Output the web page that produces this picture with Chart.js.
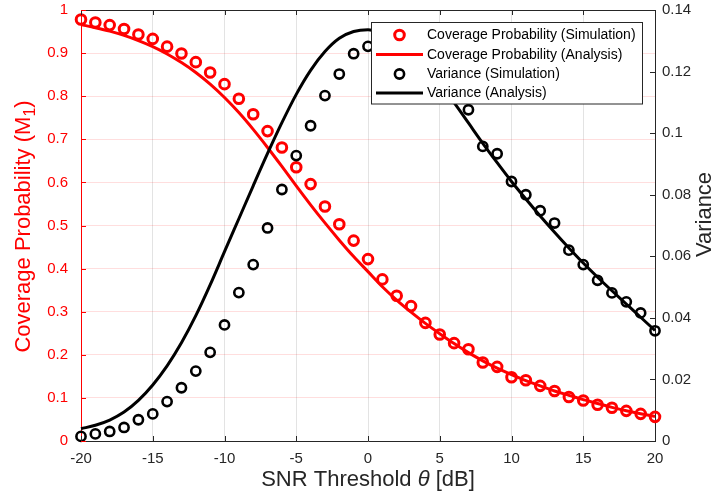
<!DOCTYPE html>
<html>
<head>
<meta charset="utf-8">
<script src="https://cdn.jsdelivr.net/npm/chart.js@4/dist/chart.umd.min.js"></script>
<style>
  html, body { margin: 0; padding: 0; background: #fff; }
  #wrap { width: 712px; height: 502px; }
</style>
</head>
<body>
<div id="wrap"><canvas id="snrChart" width="712" height="502"></canvas></div>
<script>
// --- DATA ---
const snrDb = [-20, -19, -18, -17, -16, -15, -14, -13, -12, -11,
               -10, -9, -8, -7, -6, -5, -4, -3, -2, -1,
               0, 1, 2, 3, 4, 5, 6, 7, 8, 9, 10,
               11, 12, 13, 14, 15, 16, 17, 18, 19, 20];

const covSim = [0.978, 0.971, 0.965, 0.956, 0.943, 0.933, 0.915, 0.899, 0.879, 0.855,
                0.828, 0.794, 0.758, 0.719, 0.681, 0.635, 0.596, 0.544, 0.503, 0.465,
                0.422, 0.375, 0.337, 0.313, 0.274, 0.247, 0.227, 0.213, 0.182, 0.172, 0.148,
                0.141, 0.128, 0.116, 0.102, 0.094, 0.084, 0.077, 0.070, 0.063, 0.056];

const covAna = [0.966, 0.959, 0.951, 0.941, 0.929, 0.915, 0.898, 0.878, 0.855, 0.828,
                0.797, 0.762, 0.723, 0.681, 0.637, 0.592, 0.548, 0.506, 0.466, 0.428,
                0.393, 0.358, 0.327, 0.299, 0.273, 0.249, 0.226, 0.205, 0.186, 0.169, 0.154,
                0.140, 0.128, 0.116, 0.106, 0.096, 0.087, 0.078, 0.070, 0.063, 0.057];

const varSim = [0.0015, 0.0023, 0.0031, 0.0044, 0.0069, 0.0088, 0.0128, 0.0173, 0.0227, 0.0288,
                0.0377, 0.0482, 0.0573, 0.0692, 0.0817, 0.0927, 0.1024, 0.1122, 0.1192, 0.1258,
                0.1282, 0.1300, 0.1290, 0.1260, 0.1220, 0.1170, 0.1120, 0.1076, 0.0957, 0.0933, 0.0843,
                0.0800, 0.0748, 0.0708, 0.0620, 0.0573, 0.0522, 0.0481, 0.0452, 0.0416, 0.0358];

const varAna = [0.0040, 0.0051, 0.0068, 0.0094, 0.0132, 0.0182, 0.0244, 0.0319, 0.0407, 0.0507,
                0.0615, 0.0722, 0.0829, 0.0934, 0.1034, 0.1126, 0.1204, 0.1265, 0.1308, 0.1330,
                0.1336, 0.1321, 0.1296, 0.1261, 0.1216, 0.1161, 0.1099, 0.1033, 0.0967, 0.0904, 0.0843,
                0.0786, 0.0731, 0.0678, 0.0627, 0.0578, 0.0532, 0.0488, 0.0445, 0.0402, 0.0359];

const xTicks = [-20, -15, -10, -5, 0, 5, 10, 15, 20];
const seriesLabels = ['Coverage Probability (Simulation)', 'Coverage Probability (Analysis)',
                      'Variance (Simulation)', 'Variance (Analysis)'];

const FONT = "'Liberation Sans', Arial, Helvetica, sans-serif";
const DARK = '#262626';

function pts(ys) { return snrDb.map((x, i) => ({ x: x, y: ys[i] })); }
function plainTick(v) { return String(+Number(v).toFixed(4)); }

// fixed axis boxes so the plot area sits where the figure has it
function fixBox(size, vertical) {
    return (s) => {
        if (vertical) { s.width = size; s.paddingTop = 0; s.paddingBottom = 0; }
        else { s.height = size; s.paddingLeft = 0; s.paddingRight = 0; }
    };
}

// --- PLUGIN: box, inward ticks, axis titles, legend ---
const matlabLook = {
    id: 'matlabLook',
    afterDatasetsDraw(chart) {
        const ctx = chart.ctx;
        const a = chart.chartArea;
        const sx = chart.scales.x, sy = chart.scales.y, sy1 = chart.scales.y1;
        ctx.save();

        // top border
        ctx.strokeStyle = DARK; ctx.lineWidth = 1;
        ctx.beginPath(); ctx.moveTo(a.left, a.top + 0.5); ctx.lineTo(a.right, a.top + 0.5); ctx.stroke();

        // inward tick marks
        const tl = 5;
        ctx.beginPath();
        sx.ticks.forEach(t => {
            const px = Math.round(sx.getPixelForValue(t.value)) + 0.5;
            ctx.moveTo(px, a.bottom); ctx.lineTo(px, a.bottom - tl);
            ctx.moveTo(px, a.top); ctx.lineTo(px, a.top + tl);
        });
        sy1.ticks.forEach(t => {
            const py = Math.round(sy1.getPixelForValue(t.value)) + 0.5;
            ctx.moveTo(a.right, py); ctx.lineTo(a.right - tl, py);
        });
        ctx.stroke();
        ctx.strokeStyle = 'red';
        ctx.beginPath();
        sy.ticks.forEach(t => {
            const py = Math.round(sy.getPixelForValue(t.value)) + 0.5;
            ctx.moveTo(a.left, py); ctx.lineTo(a.left + tl, py);
        });
        ctx.stroke();

        // legend
        const lx = 371.5, ly = 22.5, lw = 271, lh = 81.5;
        ctx.fillStyle = '#fff';
        ctx.fillRect(lx, ly, lw, lh);
        ctx.strokeStyle = DARK; ctx.lineWidth = 1;
        ctx.strokeRect(lx, ly, lw, lh);
        ctx.font = '14px ' + FONT;
        ctx.textBaseline = 'middle';
        ctx.textAlign = 'left';
        const rows = [35, 54.5, 74, 93];
        chart.data.datasets.forEach((ds, i) => {
            const y = rows[i];
            if (ds.showLine === false) {
                ctx.strokeStyle = ds.pointBorderColor;
                ctx.lineWidth = ds.pointBorderWidth;
                ctx.beginPath(); ctx.arc(399.5, y, ds.pointRadius, 0, Math.PI * 2); ctx.stroke();
            } else {
                ctx.strokeStyle = ds.borderColor;
                ctx.lineWidth = ds.borderWidth;
                ctx.beginPath(); ctx.moveTo(376, y); ctx.lineTo(423, y); ctx.stroke();
            }
            ctx.fillStyle = '#000';
            ctx.fillText(ds.label, 427, y + 0.5);
        });

        // x title with italic theta
        ctx.fillStyle = DARK;
        ctx.textBaseline = 'alphabetic';
        const f1 = '22px ' + FONT, f2 = 'italic 22px ' + FONT;
        const parts = [['SNR Threshold ', f1], ['\u03b8', f2], [' [dB]', f1]];
        let total = 0;
        parts.forEach(p => { ctx.font = p[1]; total += ctx.measureText(p[0]).width; });
        let cx = (a.left + a.right) / 2 - total / 2;
        parts.forEach(p => { ctx.font = p[1]; ctx.fillText(p[0], cx, 485.5); cx += ctx.measureText(p[0]).width; });

        // left title with subscript
        ctx.save();
        ctx.translate(30, 226.5);
        ctx.rotate(-Math.PI / 2);
        ctx.fillStyle = 'red';
        const lp = [['Coverage Probability (M', f1, 0], ['1', '16px ' + FONT, 5], [')', f1, 0]];
        total = 0;
        lp.forEach(p => { ctx.font = p[1]; total += ctx.measureText(p[0]).width; });
        cx = -total / 2;
        lp.forEach(p => { ctx.font = p[1]; ctx.fillText(p[0], cx, p[2]); cx += ctx.measureText(p[0]).width; });
        ctx.restore();

        // right title
        ctx.save();
        ctx.translate(710.5, 214.5);
        ctx.rotate(-Math.PI / 2);
        ctx.font = f1;
        ctx.fillStyle = DARK;
        ctx.textAlign = 'center';
        ctx.fillText('Variance', 0, 0);
        ctx.restore();

        ctx.restore();
    }
};

const ctx = document.getElementById('snrChart').getContext('2d');
const myChart = new Chart(ctx, {
    type: 'line',
    data: {
        datasets: [
            {
                label: seriesLabels[0],
                data: pts(covSim),
                yAxisID: 'y',
                showLine: false,
                pointStyle: 'circle',
                pointRadius: 4.8,
                pointBorderWidth: 3,
                pointBorderColor: '#ff0000',
                pointBackgroundColor: 'rgba(0,0,0,0)',
                borderColor: '#ff0000',
                order: 3,
                clip: false
            },
            {
                label: seriesLabels[1],
                data: pts(covAna),
                yAxisID: 'y',
                borderColor: '#ff0000',
                borderWidth: 3,
                pointRadius: 0,
                cubicInterpolationMode: 'monotone',
                fill: false,
                order: 2,
                clip: false
            },
            {
                label: seriesLabels[2],
                data: pts(varSim),
                yAxisID: 'y1',
                showLine: false,
                pointStyle: 'circle',
                pointRadius: 4.6,
                pointBorderWidth: 2.6,
                pointBorderColor: '#000000',
                pointBackgroundColor: 'rgba(0,0,0,0)',
                borderColor: '#000000',
                order: 1,
                clip: false
            },
            {
                label: seriesLabels[3],
                data: pts(varAna),
                yAxisID: 'y1',
                borderColor: '#000000',
                borderWidth: 3,
                pointRadius: 0,
                cubicInterpolationMode: 'monotone',
                fill: false,
                order: 0,
                clip: false
            }
        ]
    },
    options: {
        responsive: false,
        animation: false,
        layout: { padding: { top: 10, left: 0, right: 0, bottom: 0 } },
        plugins: {
            legend: { display: false },
            tooltip: { enabled: false }
        },
        scales: {
            x: {
                type: 'linear',
                min: -20, max: 20,
                afterBuildTicks: (s) => { s.ticks = xTicks.map(v => ({ value: v })); },
                afterFit: fixBox(61, false),
                grid: { color: 'rgba(38,38,38,0.13)', drawTicks: false },
                border: { display: true, color: DARK, width: 1 },
                ticks: { color: DARK, font: { family: FONT, size: 15 }, padding: 9, autoSkip: false, maxRotation: 0,
                         callback: plainTick }
            },
            y: {
                type: 'linear',
                position: 'left',
                min: 0, max: 1,
                afterFit: fixBox(81, true),
                grid: { color: 'rgba(255,0,0,0.13)', drawTicks: false },
                border: { display: true, color: '#ff0000', width: 1 },
                ticks: { stepSize: 0.1, color: '#ff0000', font: { family: FONT, size: 15 }, padding: 13,
                         callback: plainTick }
            },
            y1: {
                type: 'linear',
                position: 'right',
                min: 0, max: 0.14,
                afterFit: fixBox(57, true),
                grid: { display: false, drawTicks: false },
                border: { display: true, color: DARK, width: 1 },
                ticks: { stepSize: 0.02, color: DARK, font: { family: FONT, size: 15 }, padding: 7,
                         callback: plainTick }
            }
        }
    },
    plugins: [matlabLook]
});
</script>
</body>
</html>
